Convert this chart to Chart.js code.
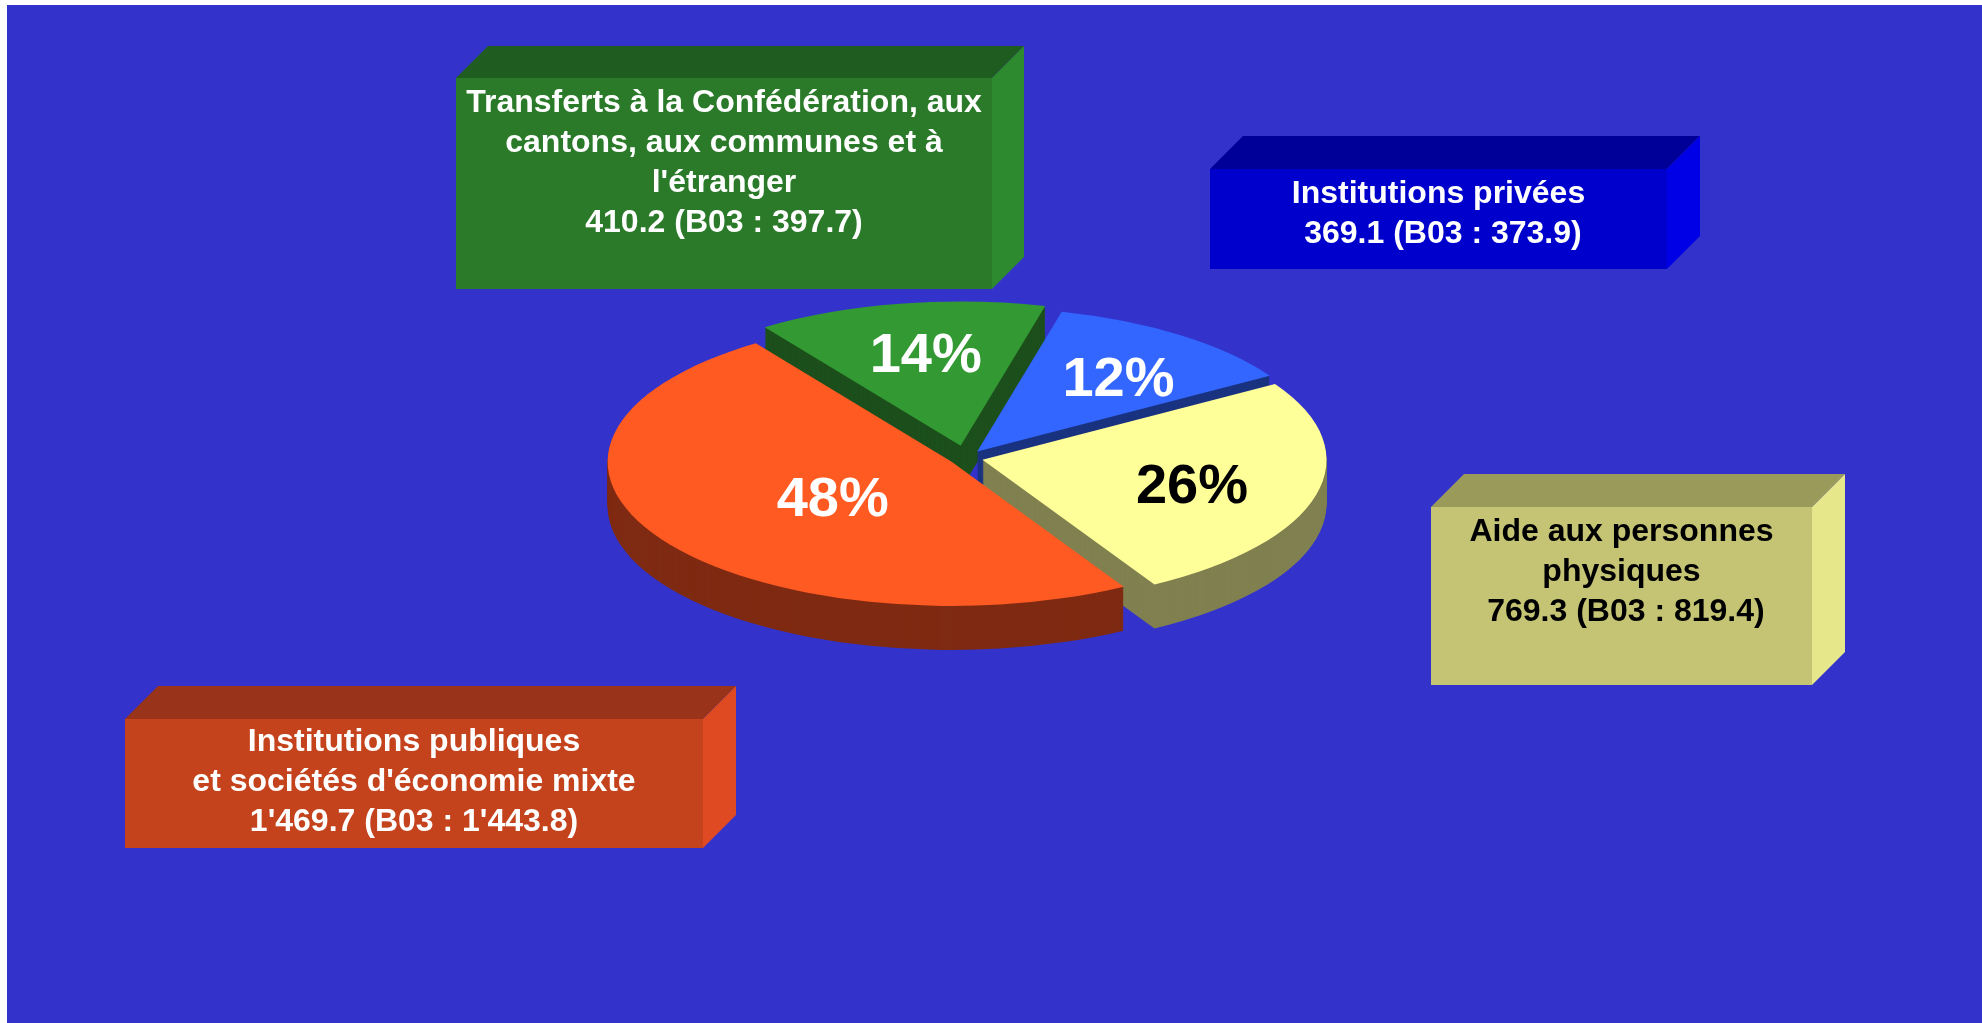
<!DOCTYPE html>
<html>
<head>
<meta charset="utf-8">
<script src="https://cdn.jsdelivr.net/npm/chart.js@4"></script>
<style>
  html, body { margin: 0; padding: 0; background: #fff; overflow: hidden; }
  #wrap { position: relative; width: 1982px; height: 1023px; }
</style>
</head>
<body>
<div id="wrap"><canvas id="chart"></canvas></div>
<script>
// budget 2004 subventions, by beneficiary (mio)
const categories = [
    ['Institutions publiques', "et sociétés d'économie mixte"],
    ['Transferts à la Confédération, aux', 'cantons, aux communes et à', "l'étranger"],
    ['Institutions privées'],
    ['Aide aux personnes', 'physiques']
];
const values = [1469.7, 410.2, 369.1, 769.3];
const b03Values = [1443.8, 397.7, 373.9, 819.4];
const pctLabels = ['48%', '14%', '12%', '26%'];

const topColors = ['#FF5A22', '#339933', '#3366FF', '#FFFF99'];
const sideColors = ['#7F2A12', '#1C4F1C', '#1A3380', '#808050'];

function fmt(v) {
    const [a, b] = v.toFixed(1).split('.');
    return a.replace(/\B(?=(\d{3})+(?!\d))/g, "'") + '.' + b;
}

const FONT = '"Liberation Sans", Arial, sans-serif';

// draws the 3d depth, the flattened slices and the label boxes
const pie3d = {
    id: 'pie3d',
    beforeDraw(chart, args, opts) {
        const ctx = chart.ctx;
        ctx.save();
        ctx.fillStyle = '#fff';
        ctx.fillRect(0, 0, chart.width, chart.height);
        ctx.fillStyle = opts.background;
        ctx.fillRect(7, 5, chart.width - 7, chart.height - 5);

        opts.boxes.forEach((b, i) => {
            const { x, y, w, h, d } = b;
            ctx.fillStyle = b.front;
            ctx.fillRect(x, y, w, h);
            ctx.fillStyle = b.top;
            ctx.beginPath();
            ctx.moveTo(x, y); ctx.lineTo(x + d, y - d);
            ctx.lineTo(x + w + d, y - d); ctx.lineTo(x + w, y);
            ctx.closePath(); ctx.fill();
            ctx.fillStyle = b.side;
            ctx.beginPath();
            ctx.moveTo(x + w, y); ctx.lineTo(x + w + d, y - d);
            ctx.lineTo(x + w + d, y + h - d); ctx.lineTo(x + w, y + h);
            ctx.closePath(); ctx.fill();

            const lines = categories[i].concat(b.pad + fmt(values[i]) + ' (B03 : ' + fmt(b03Values[i]) + ')');
            ctx.fillStyle = b.text;
            ctx.font = 'bold 32px ' + FONT;
            ctx.textAlign = 'center';
            ctx.textBaseline = 'alphabetic';
            lines.forEach((t, j) => ctx.fillText(t, x + w / 2, b.base + j * opts.lineHeight));
        });
        ctx.restore();
    },
    beforeDatasetsDraw(chart, args, opts) {
        const ctx = chart.ctx;
        const meta = chart.getDatasetMeta(0);
        const order = meta.data.map((arc, i) => ({ arc, i, mid: (arc.startAngle + arc.endAngle) / 2 }));
        order.sort((a, b) => Math.sin(a.mid) - Math.sin(b.mid));

        order.forEach(({ arc, i, mid }) => {
            const e = opts.explode[i];
            const ex = Math.cos(mid) * e, ey = Math.sin(mid) * e;
            const side = Object.create(arc);
            side.options = Object.assign({}, arc.options, { backgroundColor: sideColors[i] });
            for (let d = opts.depth; d >= 0; d--) {
                ctx.save();
                ctx.translate(arc.x, arc.y + d);
                ctx.scale(1, opts.tilt);
                ctx.translate(-arc.x + ex, -arc.y + ey);
                if (d === 0) arc.draw(ctx); else side.draw(ctx);
                ctx.restore();
            }
        });
        return false;
    },
    // percent labels (afterDatasetsDraw is skipped once the default draw is cancelled)
    afterDraw(chart, args, opts) {
        const ctx = chart.ctx;
        const meta = chart.getDatasetMeta(0);
        ctx.save();
        ctx.font = 'bold 56px ' + FONT;
        ctx.textAlign = 'center';
        ctx.textBaseline = 'middle';
        meta.data.forEach((arc, i) => {
            const mid = (arc.startAngle + arc.endAngle) / 2;
            const r = opts.labelRadius[i] * arc.outerRadius + opts.explode[i];
            ctx.fillStyle = opts.labelColors[i];
            ctx.fillText(pctLabels[i], arc.x + Math.cos(mid) * r + 6, arc.y + Math.sin(mid) * r * opts.tilt + 6);
        });
        ctx.restore();
    }
};

new Chart(document.getElementById('chart'), {
    type: 'pie',
    data: {
        labels: categories.map(c => c.join(' ')),
        datasets: [{
            data: values,
            backgroundColor: topColors,
            borderWidth: 0
        }]
    },
    options: {
        responsive: true,
        maintainAspectRatio: false,
        animation: false,
        events: [],
        rotation: 150,
        radius: 344,
        layout: { padding: { left: 0, right: 50, top: 0, bottom: 107 } },
        plugins: {
            legend: { display: false },
            tooltip: { enabled: false },
            pie3d: {
                background: '#3333CC',
                tilt: 0.419,
                depth: 44,
                explode: [17, 30, 19, 17],
                labelRadius: [0.43, 0.67, 0.665, 0.61],
                labelColors: ['#fff', '#fff', '#fff', '#000'],
                lineHeight: 40,
                boxes: [
                    { x: 125, y: 719, w: 578, h: 129, d: 33, front: '#C4421C', top: '#99331A', side: '#E04A22', text: '#fff', base: 751, pad: '' },
                    { x: 456, y: 78, w: 536, h: 211, d: 32, front: '#2A7A2A', top: '#1F5C1F', side: '#2E8A2E', text: '#fff', base: 112, pad: '' },
                    { x: 1210, y: 169, w: 457, h: 100, d: 33, front: '#0000CC', top: '#000099', side: '#0000E6', text: '#fff', base: 203, pad: ' ' },
                    { x: 1431, y: 507, w: 381, h: 178, d: 33, front: '#C4C474', top: '#9A9A5A', side: '#E6E68A', text: '#000', base: 541, pad: ' ' }
                ]
            }
        }
    },
    plugins: [pie3d]
});
</script>
</body>
</html>
